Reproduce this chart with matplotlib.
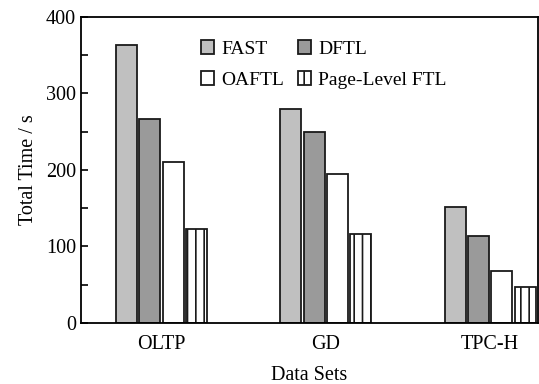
import matplotlib.pyplot as plt
import numpy as np
from matplotlib.ticker import MultipleLocator

plt.rcParams['font.family'] = ['Liberation Serif', 'DejaVu Serif']
plt.rcParams['hatch.linewidth'] = 1.2

categories = ['OLTP', 'GD', 'TPC-H']
series = ['FAST', 'DFTL', 'OAFTL', 'Page-Level FTL']
fast = [363, 280, 152]
dftl = [266, 250, 114]
oaftl = [210, 195, 68]
page_level = [123, 116, 47]

values = [fast, dftl, oaftl, page_level]
colors = ['#c0c0c0', '#9a9a9a', 'white', 'white']
hatches = [None, None, None, '||']

fig = plt.figure(figsize=(5.39, 3.84), dpi=100)
ax = fig.add_axes([0.150, 0.159, 0.848, 0.797])

x = np.arange(len(categories))
step = 0.142
width = 0.127
bars = []
for i, (name, vals) in enumerate(zip(series, values)):
    b = ax.bar(x + (i - 1.5) * step, vals, width, color=colors[i], edgecolor='#1a1a1a',
               linewidth=1.3, hatch=hatches[i], label=name)
    bars.append(b)

ax.set_xlim(-0.49, 2.29)
ax.set_ylim(0, 400)
ax.set_xticks(x)
ax.set_xticklabels(categories, fontsize=14.5)
ax.tick_params(axis='x', length=0, pad=9)
ax.yaxis.set_major_locator(MultipleLocator(100))
ax.yaxis.set_minor_locator(MultipleLocator(50))
ax.tick_params(axis='y', which='both', direction='in', length=5, width=1.2, labelsize=14.5, right=False)
for s in ax.spines.values():
    s.set_linewidth(1.3)

ax.set_ylabel('Total Time / s', fontsize=14.5, labelpad=6)
ax.set_xlabel('Data Sets', fontsize=14.5, labelpad=8)

# row-wise legend order: FAST DFTL / OAFTL Page-Level FTL
order = [0, 2, 1, 3]
ax.legend([bars[k] for k in order], [series[k] for k in order], ncol=2, frameon=False,
          loc='upper left', bbox_to_anchor=(0.228, 0.975),
          fontsize=14, handlelength=0.7, handleheight=0.7, handletextpad=0.35,
          columnspacing=0.7, labelspacing=0.7, borderpad=0.3)

fig.savefig('out.png', dpi=100)
